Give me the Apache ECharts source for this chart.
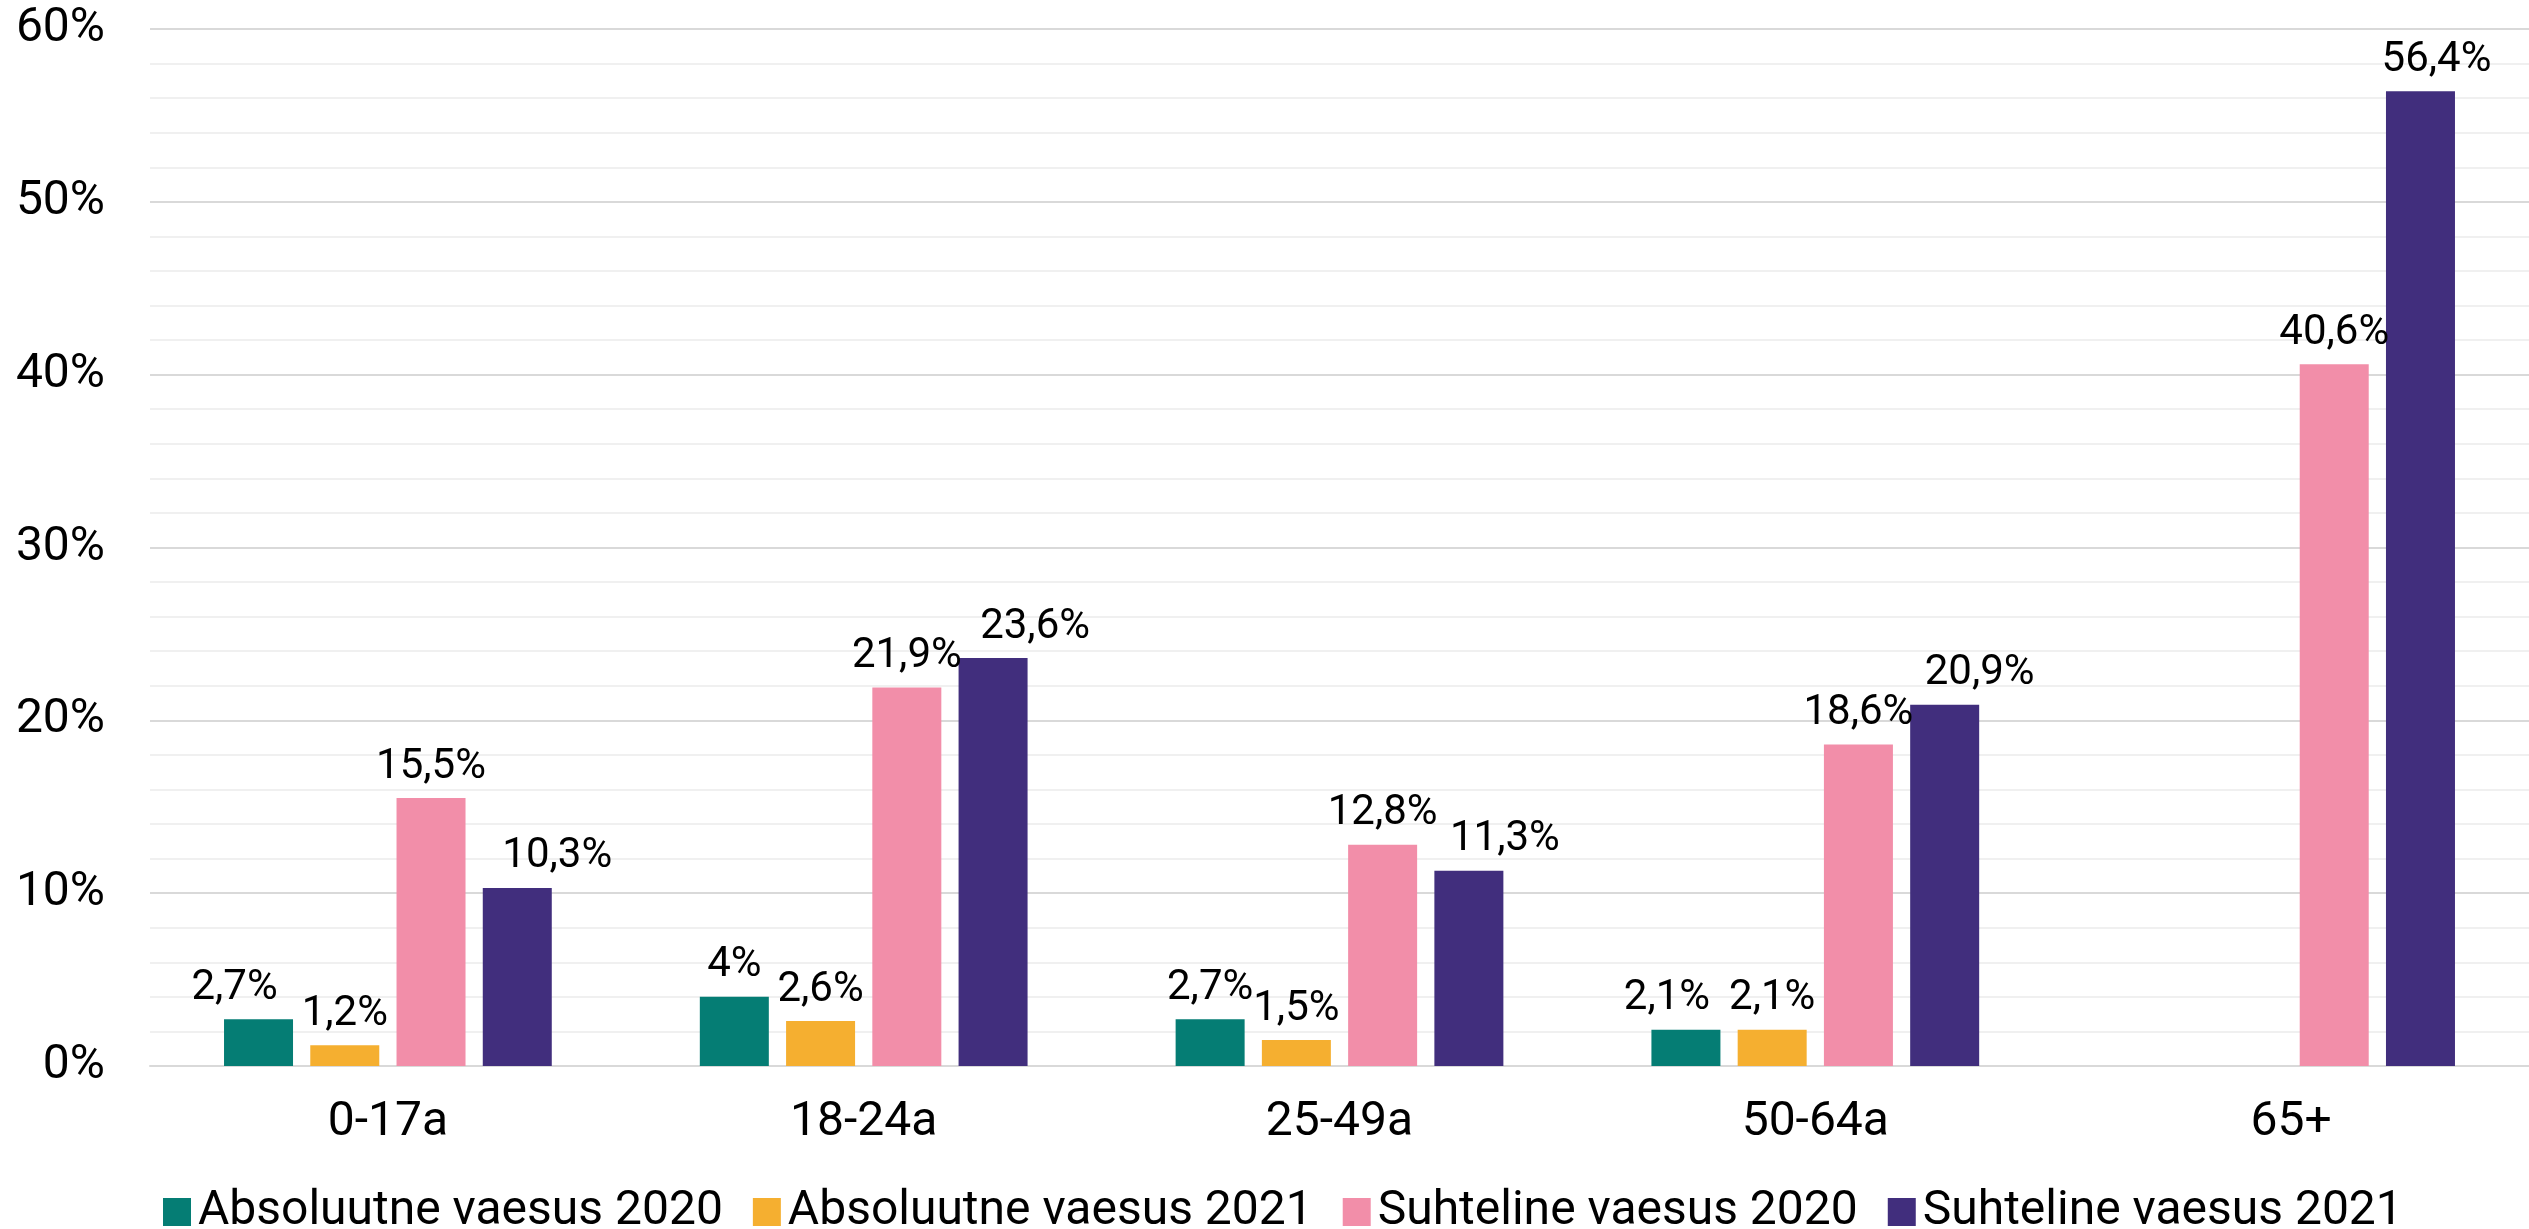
<!DOCTYPE html>
<html>
<head>
<meta charset="utf-8">
<script src="https://cdn.jsdelivr.net/npm/echarts@6/dist/echarts.min.js"></script>
<style>
html,body{margin:0;padding:0;background:#fff;}
#chart{width:2529px;height:1229px;}
</style>
</head>
<body>
<div id="chart"></div>
<script>
const categories = ['0-17a', '18-24a', '25-49a', '50-64a', '65+'];
const seriesNames = ['Absoluutne vaesus 2020', 'Absoluutne vaesus 2021', 'Suhteline vaesus 2020', 'Suhteline vaesus 2021'];
const absolute2020 = [2.7, 4, 2.7, 2.1, null];
const absolute2021 = [1.2, 2.6, 1.5, 2.1, null];
const relative2020 = [15.5, 21.9, 12.8, 18.6, 40.6];
const relative2021 = [10.3, 23.6, 11.3, 20.9, 56.4];
const colors = ['#057D74', '#F5AF30', '#F28EA9', '#412E7D'];
const yTicks = [0, 10, 20, 30, 40, 50, 60];

const dataSets = [absolute2020, absolute2021, relative2020, relative2021];
const fmt = v => String(v).replace('.', ',') + '%';

// horizontal nudges of data labels (px), as in the original's label placement
const labelNudge = {
  0: { 0: -24, 3: -19 },
  3: { 0: 40, 1: 42, 2: 36, 3: 35, 4: 16 }
};

const chart = echarts.init(document.getElementById('chart'));
chart.setOption({
  animation: false,
  color: colors,
  textStyle: { fontFamily: 'Roboto' },
  grid: { left: 150, right: 0, top: 29, bottom: 163, containLabel: false },
  legend: {
    data: seriesNames,
    left: 158,
    top: 1183,
    itemWidth: 28,
    itemHeight: 28,
    itemGap: 30,
    icon: 'rect',
    textStyle: { fontSize: 48, color: '#000', fontFamily: 'Roboto', padding: [0, 0, 0, 2] }
  },
  xAxis: {
    type: 'category',
    data: categories,
    axisTick: { show: false },
    axisLine: { show: true, lineStyle: { color: '#D9D9D9', width: 2 } },
    axisLabel: { fontSize: 48, color: '#000', margin: 33, fontFamily: 'Roboto' }
  },
  yAxis: {
    type: 'value',
    min: yTicks[0],
    max: yTicks[yTicks.length - 1],
    interval: 10,
    axisLine: { show: false },
    axisTick: { show: false },
    axisLabel: { fontSize: 48, color: '#000', margin: 45, formatter: v => v + '%', fontFamily: 'Roboto' },
    splitLine: { show: true, lineStyle: { color: '#D9D9D9', width: 2 } },
    minorTick: { show: false, splitNumber: 5 },
    minorSplitLine: { show: true, lineStyle: { color: '#F0F0F0', width: 2 } }
  },
  series: seriesNames.map((name, i) => ({
    name: name,
    type: 'bar',
    data: dataSets[i].map((v, j) => {
      const nudge = (labelNudge[i] || {})[j];
      return nudge ? { value: v, label: { offset: [nudge, 0] } } : v;
    }),
    barWidth: 69,
    barGap: '25%',
    label: {
      show: true,
      position: 'top',
      distance: 10,
      fontSize: 42,
      color: '#000',
      fontFamily: 'Roboto',
      formatter: p => (p.value == null ? '' : fmt(p.value))
    }
  }))
});
</script>
</body>
</html>
